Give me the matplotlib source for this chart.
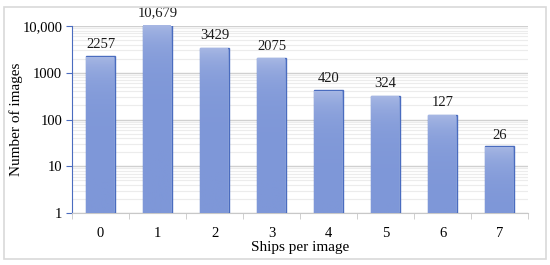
import numpy as np
import matplotlib.pyplot as plt
from matplotlib.colors import LinearSegmentedColormap
from matplotlib.ticker import FixedLocator, LogLocator, NullFormatter

# Dados
ships = [0, 1, 2, 3, 4, 5, 6, 7]
images = [2257, 10679, 3429, 2075, 420, 324, 127, 26]
labels = ['2257', '10,679', '3429', '2075', '420', '324', '127', '26']
yticks = [1, 10, 100, 1000, 10000]
yticklabels = ['1', '10', '100', '1000', '10,000']

plt.rcParams['font.family'] = ['Liberation Serif', 'DejaVu Serif']

fig = plt.figure(figsize=(5.5, 2.65), dpi=100)
ax = fig.add_axes([0.131, 0.196, 0.829, 0.706])

# borda da figura
fig.patches.append(plt.Rectangle((0.008, 0.022), 0.985, 0.952, transform=fig.transFigure,
                                 fill=False, edgecolor='#d9d9d9', lw=1.2))

bars = ax.bar(ships, images, width=0.5, bottom=1, color='#94a9dd',
              edgecolor='#4a6cbf', linewidth=1.0, zorder=3)

# gradiente nas barras
grad = np.linspace(0, 1, 256).reshape(-1, 1)
cmap = LinearSegmentedColormap.from_list('g', ['#7e97d8', '#a9b9e4'])
for b in bars:
    x0 = b.get_x()
    w = b.get_width()
    h = b.get_height() + 1
    im = ax.imshow(grad, extent=[x0, x0 + w, 1, h], aspect='auto', origin='lower',
                   cmap=cmap, zorder=3)
    im.set_clip_path(b)

for x, v, t in zip(ships, images, labels):
    ax.text(x, v * 1.3, t, ha='center', va='bottom', fontsize=10.5, color='#1a1a1a')

ax.set_yscale('log')
ax.set_ylim(1, 10000)
ax.set_xlim(-0.5, 7.5)
ax.set_yticks(yticks)
ax.set_yticklabels(yticklabels)
ax.yaxis.set_minor_locator(LogLocator(base=10, subs=np.arange(2, 10)))
ax.yaxis.set_minor_formatter(NullFormatter())
ax.set_xticks(ships)
ax.xaxis.set_minor_locator(FixedLocator(np.arange(-0.5, 8, 1)))

ax.grid(True, which='major', axis='y', color='#d0d0d0', lw=1.0, zorder=0)
ax.grid(True, which='minor', axis='y', color='#ececec', lw=0.8, zorder=0)

for s in ['top', 'right']:
    ax.spines[s].set_visible(False)
ax.spines['left'].set_color('#4a6cbf')
ax.spines['bottom'].set_color('#c8c8c8')

ax.tick_params(axis='y', which='major', length=4, color='#4a6cbf', labelsize=10.5, pad=3)
ax.tick_params(axis='y', which='minor', length=0)
ax.tick_params(axis='x', which='major', length=0, labelsize=10.5, pad=10)
ax.tick_params(axis='x', which='minor', length=4, color='#c8c8c8')

ax.set_xlabel('Ships per image', fontsize=11, labelpad=1)
ax.set_ylabel('Number of images', fontsize=11)
ax.yaxis.set_label_coords(-0.108, 0.5)

fig.savefig('out.png', dpi=100)
